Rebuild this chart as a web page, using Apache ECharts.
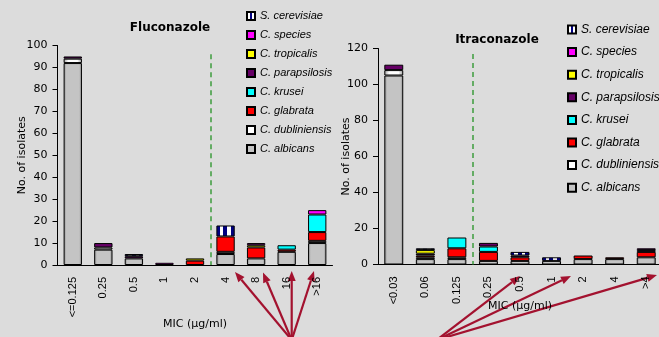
<!DOCTYPE html>
<html><head><meta charset="utf-8">
<script src="https://cdn.jsdelivr.net/npm/echarts@6/dist/echarts.min.js"></script>
<style>html,body{margin:0;padding:0;background:#DCDCDC}#c{width:659px;height:337px}</style>
</head><body><div id="c"></div>
<script>
// ---- data ----
const speciesNames = ['C. albicans','C. dubliniensis','C. glabrata','C. krusei','C. parapsilosis','C. tropicalis','C. species','S. cerevisiae'];

const flucCategories = ['<=0.125','0.25','0.5','1','2','4','8','16','>16'];
const flucAlbicans      = [92,7,3,0,0,5,3,6,10];
const flucDubliniensis  = [2,1,0,0,0,1,0,0,1];
const flucGlabrata      = [0,0,0,0,2,7,5,1,4];
const flucKrusei        = [0,0,0,0,0,0,0,2,8];
const flucParapsilosis  = [1,2,1,0,0,0,0,0,0];
const flucTropicalis    = [0,0,0,0,1,0,1,0,0];
const flucSpecies       = [0,0,0,1,0,0,1,0,2];
const flucCerevisiae    = [0,0,1,0,0,5,0,0,0];

const itraCategories = ['<0.03','0.06','0.125','0.25','0.5','1','2','4','>4'];
const itraAlbicans      = [105,3,3,2,2,2,3,3,4];
const itraDubliniensis  = [3,1,1,0,0,0,0,0,0];
const itraGlabrata      = [0,1,5,5,2,0,2,1,3];
const itraKrusei        = [0,0,6,3,0,0,0,0,0];
const itraParapsilosis  = [3,1,0,2,1,0,0,0,1];
const itraTropicalis    = [0,2,0,0,0,0,0,0,0];
const itraSpecies       = [0,0,0,0,0,0,0,0,1];
const itraCerevisiae    = [0,1,0,0,2,2,0,0,0];

const flucYTicks = {min:0, max:100, interval:10};
const itraYTicks = {min:0, max:120, interval:20};
const flucBreakpoint = 4.5, flucBreakTop = 96;
const itraBreakpoint = 2.5, itraBreakTop = 117;

// ---- styles ----
function hg(stops){return {type:'linear',x:0,y:0,x2:1,y2:0,colorStops:stops.map(s=>({offset:s[0],color:s[1]}))};}
const colors = [
  hg([[0,'#8a8a8a'],[0.15,'#c4c4c4'],[0.85,'#c4c4c4'],[1,'#8a8a8a']]),
  hg([[0,'#9a9a9a'],[0.25,'#ffffff'],[0.75,'#ffffff'],[1,'#9a9a9a']]),
  '#FF0000','#00FFFF','#660066','#FFFF00','#FF00FF',
  hg([[0,'#000080'],[0.2,'#000080'],[0.2,'#ffffff'],[0.38,'#ffffff'],[0.38,'#000080'],[0.6,'#000080'],[0.6,'#ffffff'],[0.78,'#ffffff'],[0.78,'#000080'],[1,'#000080']])
];
const flucData = [flucAlbicans,flucDubliniensis,flucGlabrata,flucKrusei,flucParapsilosis,flucTropicalis,flucSpecies,flucCerevisiae];
const itraData = [itraAlbicans,itraDubliniensis,itraGlabrata,itraKrusei,itraParapsilosis,itraTropicalis,itraSpecies,itraCerevisiae];

const series = [];
[flucData, itraData].forEach((set,g)=>{
  set.forEach((vals,i)=>{
    series.push({type:'bar', name:speciesNames[i], xAxisIndex:g, yAxisIndex:g, stack:'s'+g,
      barCategoryGap:'40%', silent:true,
      itemStyle:{color:colors[i], borderColor:'#000', borderWidth:1},
      data: vals.map(v=> v===0 ? '-' : v)});
  });
});
[[flucBreakpoint,flucBreakTop],[itraBreakpoint,itraBreakTop]].forEach((b,g)=>{
  series.push({type:'line', xAxisIndex:2+g, yAxisIndex:g, data:[], symbol:'none', silent:true,
    markLine:{symbol:['none','none'], silent:true, label:{show:false},
      lineStyle:{color:'#3C9C3C', type:[5,4], width:1.5},
      data:[[{coord:[b[0],b[1]]},{coord:[b[0],0]}]]}});
});

const labelFont = 'Liberation Sans, Arial, sans-serif';
function catAxis(g, cats, gap){
  return {type:'category', gridIndex:g, data:cats, position:'bottom',
    axisLine:{onZero:false, lineStyle:{color:'#000',width:1}},
    axisTick:{length:5, lineStyle:{color:'#000'}},
    axisLabel:{rotate:90, color:'#000', fontFamily:labelFont, fontSize:11, margin:12},
    name:'MIC (µg/ml)', nameLocation:'middle', nameGap:gap, nameMoveOverlap:false,
    nameTextStyle:{color:'#000', fontFamily:'DejaVu Sans', fontSize:11}};
}
function valAxis(g, t, gap){
  return {type:'value', gridIndex:g, min:t.min, max:t.max, interval:t.interval, position:'left',
    axisLine:{show:true, onZero:false, lineStyle:{color:'#000'}},
    axisTick:{show:true, length:5, lineStyle:{color:'#000'}},
    splitLine:{show:false},
    axisLabel:{color:'#000', fontFamily:'DejaVu Sans', fontSize:11, margin:10},
    name:'No. of isolates', nameLocation:'middle', nameGap:gap, nameMoveOverlap:false,
    nameTextStyle:{color:'#000', fontFamily:'DejaVu Sans', fontSize:11}};
}

const legendNames = speciesNames.slice().reverse();
function legend(left, top, gap, fs, lh){
  return {orient:'vertical', left:left, top:top, padding:0, itemWidth:8, itemHeight:8, itemGap:gap,
    icon:'rect', selectedMode:false, data:legendNames,
    textStyle:{fontStyle:'italic', fontSize:fs, fontFamily:labelFont, color:'#000', lineHeight:lh}};
}

// arrows (annotation)
function arrow(from, to, color){
  const dx = to[0]-from[0], dy = to[1]-from[1], L = Math.hypot(dx,dy);
  const ux = dx/L, uy = dy/L, hl = 10, hw = 4;
  const bx = to[0]-ux*hl, by = to[1]-uy*hl;
  return [
    {type:'line', silent:true, shape:{x1:from[0],y1:from[1],x2:bx,y2:by}, style:{stroke:color, lineWidth:2.2}},
    {type:'polygon', silent:true, shape:{points:[[to[0],to[1]],[bx-uy*hw,by+ux*hw],[bx+uy*hw,by-ux*hw]]}, style:{fill:color}}
  ];
}
const arrowColor = '#A3122F';
let graphics = [
  {type:'text', x:170, y:28, style:{text:'Fluconazole', align:'center', verticalAlign:'middle', font:'bold 12px DejaVu Sans', fill:'#000'}},
  {type:'text', x:497, y:40, style:{text:'Itraconazole', align:'center', verticalAlign:'middle', font:'bold 12px DejaVu Sans', fill:'#000'}}
];
[[235,272],[263,272.5],[291.7,271],[314,271]].forEach(t=>{ graphics = graphics.concat(arrow([291.7,340],t,arrowColor)); });
[[520,276],[571,276],[657,275]].forEach(t=>{ graphics = graphics.concat(arrow([436.7,340],t,arrowColor)); });

const chart = echarts.init(document.getElementById('c'), null, {renderer:'canvas'});
chart.setOption({
  backgroundColor:'#DCDCDC',
  animation:false,
  grid:[{left:57.5, top:45.5, width:275, height:219.5, containLabel:false, outerBoundsMode:'none'},
        {left:378, top:48.5, width:284, height:216, containLabel:false, outerBoundsMode:'none'}],
  xAxis:[catAxis(0, flucCategories, 54), catAxis(1, itraCategories, 36),
         {type:'value', gridIndex:0, min:-0.5, max:8.5, show:false, position:'top'},
         {type:'value', gridIndex:1, min:-0.5, max:8.5, show:false, position:'top'}],
  yAxis:[valAxis(0, flucYTicks, 30), valAxis(1, itraYTicks, 26)],
  legend:[legend(246, 10, 7, 11, 12), legend(567, 23, 9.6, 12, 13)],
  series:series,
  graphic:graphics
});
</script></body></html>
